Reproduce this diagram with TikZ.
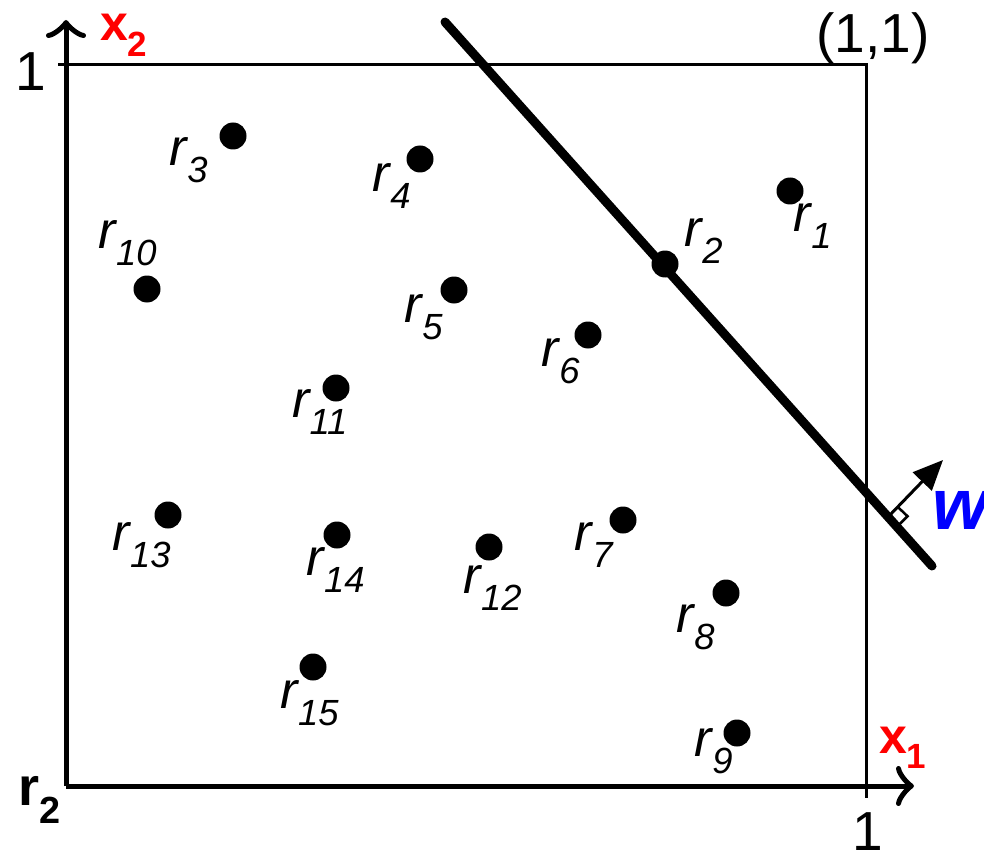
\documentclass[tikz,border=0pt]{standalone}
\usepackage{fontspec}
\setmainfont{Liberation Sans}
\usetikzlibrary{arrows.meta,calc}
\begin{document}
\begin{tikzpicture}[x=1pt,y=-1pt,
  dot/.style={circle,fill=black,inner sep=0pt,minimum size=27pt},
  lab/.style={inner sep=0pt,font=\fontsize{52}{56}\selectfont\itshape},
  num/.style={inner sep=0pt,font=\fontsize{55}{60}\selectfont},
  axlab/.style={inner sep=0pt,text=red,font=\fontsize{50}{54}\selectfont\bfseries},
  axis/.style={line width=5pt,-{Classical TikZ Rightarrow[length=18pt,width=40pt,line width=5pt]}}]
\useasboundingbox (0,0) rectangle (984,850);
% box
\coordinate (O) at (66,786);
\coordinate (TL) at (58,65);
\coordinate (TR) at (866,65);
\coordinate (BR) at (866,798);
\draw[line width=3pt] (TL) -- (TR) -- (BR);
\draw[axis] (O) -- (66,20) coordinate (ytip);
\draw[axis] (O) -- (914,786) coordinate (xtip);
% separating line
\coordinate (La) at (445,22);
\coordinate (Lb) at (932,566);
\draw[line width=9pt,line cap=round] (La) -- (Lb);
% normal vector w
\coordinate (Wa) at (888,517);
\coordinate (Wb) at (943,460);
\draw[line width=3pt,-{Triangle[length=30pt,width=26pt]}] (Wa) -- (Wb);
\draw[line width=2.5pt] ($(Wa)!14pt!(Wb)$) -- ++(9.8,9.3) -- ++(-10.4,10.4) coordinate (rc) -- ++(-9.8,-9.3);
\node[inner sep=0pt,text=blue,font=\fontsize{72}{76}\selectfont\bfseries\itshape,anchor=west] (w) at (932,510) {w};
% axis labels
\node[axlab] (x2) at (124,35) {x\textsubscript{2}};
\node[axlab] (x1) at (903,748) {x\textsubscript{1}};
\node[inner sep=0pt,font=\fontsize{54}{58}\selectfont\bfseries] (r2b) at (40,800) {r\textsubscript{2}};
\node[num] (one1) at (31,72) {1};
\node[num] (one2) at (868,832) {1};
\node[num] (oneone) at (873,38) {(1,1)};
% points
\node[dot] (r1) at (790,191) {};
\node[dot] (r2) at (665,264) {};
\node[dot] (r3) at (233,136) {};
\node[dot] (r4) at (420,159) {};
\node[dot] (r5) at (454,290) {};
\node[dot] (r6) at (588,335) {};
\node[dot] (r7) at (623,520) {};
\node[dot] (r8) at (726,593) {};
\node[dot] (r9) at (737,733) {};
\node[dot] (r10) at (147,289) {};
\node[dot] (r11) at (336,388) {};
\node[dot] (r12) at (489,547) {};
\node[dot] (r13) at (168,515) {};
\node[dot] (r14) at (337,535) {};
\node[dot] (r15) at (313,667) {};
% point labels
\node[lab] (l1) at (813,226) {r\textsubscript{1}};
\node[lab] (l2) at (704,241) {r\textsubscript{2}};
\node[lab] (l3) at (189,160) {r\textsubscript{3}};
\node[lab] (l4) at (392,186) {r\textsubscript{4}};
\node[lab] (l5) at (424,317) {r\textsubscript{5}};
\node[lab] (l6) at (561,361) {r\textsubscript{6}};
\node[lab] (l7) at (594,545) {r\textsubscript{7}};
\node[lab] (l8) at (696,627) {r\textsubscript{8}};
\node[lab] (l9) at (714,751) {r\textsubscript{9}};
\node[lab] (l10) at (128,243) {r\textsubscript{10}};
\node[lab] (l11) at (320,412) {r\textsubscript{11}};
\node[lab] (l12) at (493,588) {r\textsubscript{12}};
\node[lab] (l13) at (142,545) {r\textsubscript{13}};
\node[lab] (l14) at (336,570) {r\textsubscript{14}};
\node[lab] (l15) at (310,703) {r\textsubscript{15}};
\end{tikzpicture}
\end{document}
